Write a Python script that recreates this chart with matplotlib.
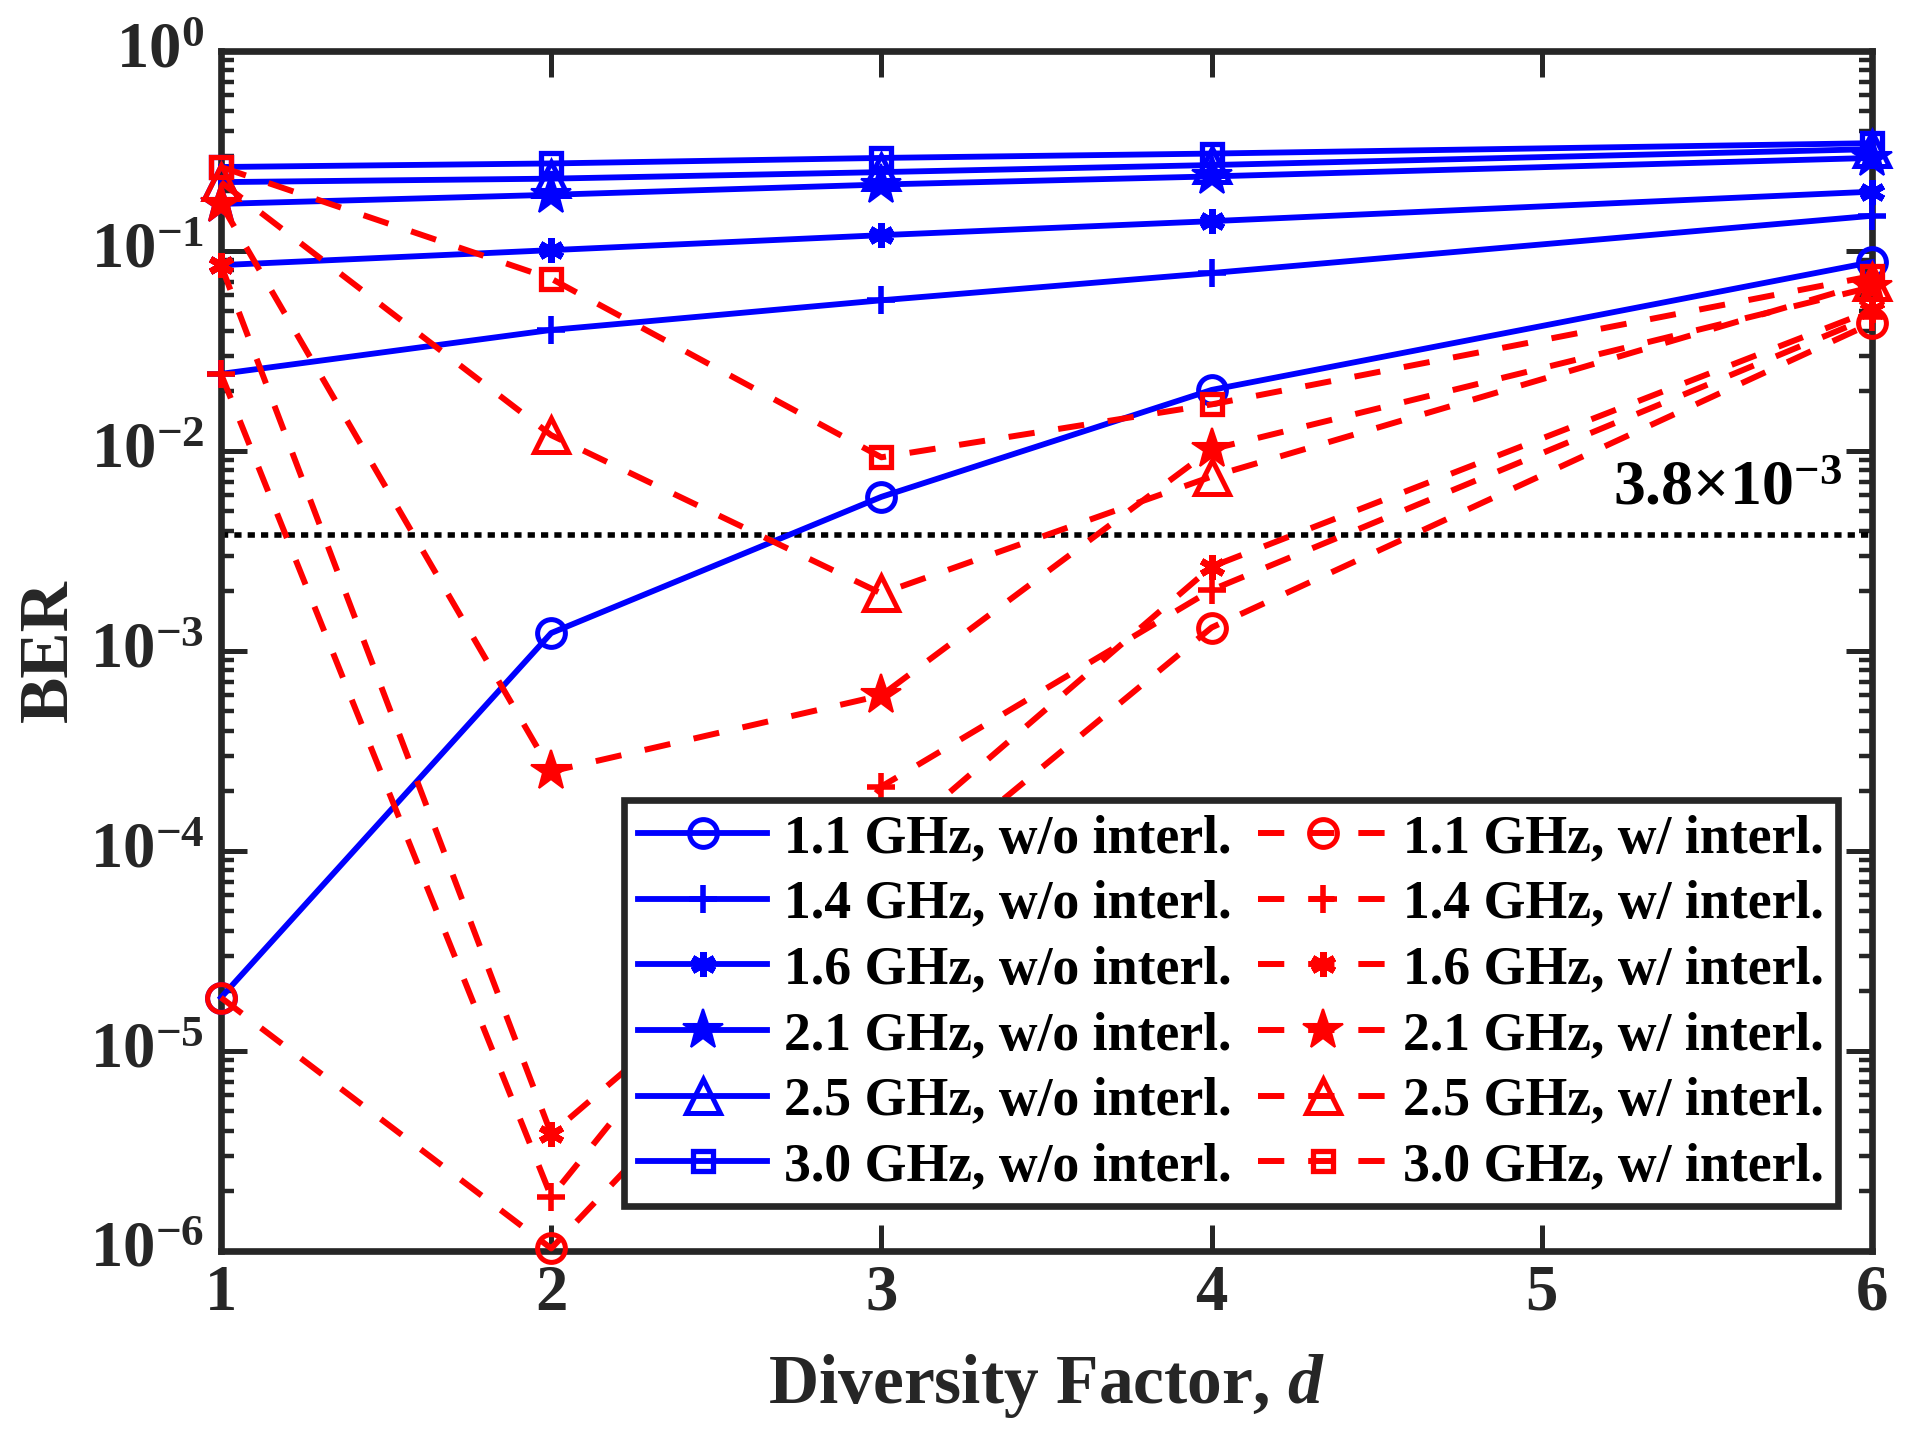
import numpy as np
import matplotlib
matplotlib.use("Agg")
import matplotlib.pyplot as plt
from matplotlib.ticker import LogLocator, NullFormatter, FixedLocator, FixedFormatter


# diversity factor d (there is no point at d = 5)
d = [1, 2, 3, 4, 6]

# carrier / bandwidth labels
freqs = ["1.1", "1.4", "1.6", "2.1", "2.5", "3.0"]

# BER without interleaving
ber_no_1p1 = [1.85e-5, 1.23e-3, 5.9e-3, 2.02e-2, 8.8e-2]
ber_no_1p4 = [2.43e-2, 4.03e-2, 5.67e-2, 7.76e-2, 1.50e-1]
ber_no_1p6 = [8.5e-2, 1.01e-1, 1.20e-1, 1.41e-1, 1.98e-1]
ber_no_2p1 = [1.72e-1, 1.91e-1, 2.15e-1, 2.36e-1, 2.92e-1]
ber_no_2p5 = [2.21e-1, 2.30e-1, 2.48e-1, 2.69e-1, 3.23e-1]
ber_no_3p0 = [2.63e-1, 2.74e-1, 2.92e-1, 3.07e-1, 3.46e-1]

# BER with interleaving
ber_il_1p1 = [1.85e-5, 1.03e-6, 5.7e-5, 1.31e-3, 4.36e-2]
ber_il_1p4 = [2.43e-2, 1.87e-6, 2.1e-4, 2.02e-3, 4.7e-2]
ber_il_1p6 = [8.5e-2, 3.85e-6, 1.0e-4, 2.64e-3, 5.05e-2]
ber_il_2p1 = [1.72e-1, 2.5e-4, 6.0e-4, 1.02e-2, 6.6e-2]
ber_il_2p5 = [2.21e-1, 1.20e-2, 1.94e-3, 7.45e-3, 7.0e-2]
ber_il_3p0 = [2.63e-1, 7.27e-2, 9.3e-3, 1.71e-2, 7.5e-2]

ber_no = [ber_no_1p1, ber_no_1p4, ber_no_1p6, ber_no_2p1, ber_no_2p5, ber_no_3p0]
ber_il = [ber_il_1p1, ber_il_1p4, ber_il_1p6, ber_il_2p1, ber_il_2p5, ber_il_3p0]

# FEC threshold
ber_threshold = 3.8e-3

x_ticks = [1, 2, 3, 4, 5, 6]
x_tick_labels = ["1", "2", "3", "4", "5", "6"]
y_ticks = [1e-6, 1e-5, 1e-4, 1e-3, 1e-2, 1e-1, 1e0]
y_tick_labels = [
    r"$\mathbf{10^{-6}}$",
    r"$\mathbf{10^{-5}}$",
    r"$\mathbf{10^{-4}}$",
    r"$\mathbf{10^{-3}}$",
    r"$\mathbf{10^{-2}}$",
    r"$\mathbf{10^{-1}}$",
    r"$\mathbf{10^{0}}$",
]


# Times-like bold look everywhere
plt.rcParams["font.family"] = ["Liberation Serif", "DejaVu Serif"]
plt.rcParams["font.weight"] = "bold"
plt.rcParams["axes.labelweight"] = "bold"
plt.rcParams["mathtext.fontset"] = "custom"
plt.rcParams["mathtext.rm"] = "Liberation Serif:bold"
plt.rcParams["mathtext.bf"] = "Liberation Serif:bold"
plt.rcParams["mathtext.it"] = "Liberation Serif:italic:bold"
plt.rcParams["mathtext.default"] = "bf"

AX_COLOR = "#262626"

# marker style per frequency: (marker, size, edge width, filled)
marker_styles = [
    ("o", 20, 3.6, False),
    ("+", 20, 4.0, True),
    ((6, 2, 0), 18, 4.8, True),
    ("*", 30, 1.5, True),
    ("^", 24, 3.6, False),
    ("s", 15, 3.8, False),
]

fig = plt.figure(figsize=(19.15, 14.45), dpi=100)
ax = fig.add_axes([221 / 1915, 1 - 1251 / 1445, 1651 / 1915, 1200 / 1445])

# solid blue: without interleaving
for f, ber, (mk, ms, mew, filled) in zip(freqs, ber_no, marker_styles):
    ax.plot(
        d,
        ber,
        "-",
        color="blue",
        lw=4.2,
        marker=mk,
        markersize=ms,
        markeredgewidth=mew,
        markerfacecolor="blue" if filled else "none",
        markeredgecolor="blue",
        clip_on=False,
        zorder=3,
        label="%s GHz, w/o interl." % f,
    )

# dashed red: with interleaving
for f, ber, (mk, ms, mew, filled) in zip(freqs, ber_il, marker_styles):
    ax.plot(
        d,
        ber,
        color="red",
        lw=4.3,
        dashes=(4.4, 4.0),
        marker=mk,
        markersize=ms,
        markeredgewidth=mew,
        markerfacecolor="red" if filled else "none",
        markeredgecolor="red",
        clip_on=False,
        zorder=4,
        label="%s GHz, w/ interl." % f,
    )

# threshold line and its label
ax.axhline(ber_threshold, color="black", lw=4.0, dashes=(1.3, 1.1), zorder=2)
ax.text(
    0.982,
    5.4e-3,
    r"$\mathbf{3.8{\times}10^{-3}}$",
    transform=ax.get_yaxis_transform(),
    ha="right",
    va="baseline",
    fontsize=46,
    color="black",
)

# axes
ax.set_yscale("log")
ax.set_xlim(1, 6)
ax.set_ylim(1e-6, 1e0)
ax.xaxis.set_major_locator(FixedLocator(x_ticks))
ax.xaxis.set_major_formatter(FixedFormatter(x_tick_labels))
ax.yaxis.set_major_locator(FixedLocator(y_ticks))
ax.yaxis.set_major_formatter(FixedFormatter(y_tick_labels))
ax.yaxis.set_minor_locator(LogLocator(base=10, subs=np.arange(2, 10), numticks=30))
ax.yaxis.set_minor_formatter(NullFormatter())

ax.tick_params(
    which="both", direction="in", top=True, right=True, colors=AX_COLOR, labelcolor=AX_COLOR
)
ax.tick_params(which="major", length=19, width=3.6, labelsize=46.5)
ax.tick_params(which="minor", length=9.5, width=3.2)
ax.tick_params(axis="x", which="major", pad=9)
ax.tick_params(axis="y", which="major", pad=12)
for lab in ax.get_yticklabels():
    lab.set_verticalalignment("center")

for spine in ax.spines.values():
    spine.set_linewidth(4.8)
    spine.set_color(AX_COLOR)

ax.set_xlabel(r"Diversity Factor, $\mathit{d}$", fontsize=50, fontweight="bold", color=AX_COLOR)
ax.set_ylabel("BER", fontsize=50, fontweight="bold", color=AX_COLOR)
ax.xaxis.set_label_coords(0.5, -0.084)
ax.yaxis.set_label_coords(-0.084, 0.5)

# legend: blue column, red column
leg = ax.legend(
    ncol=2,
    loc="lower right",
    bbox_to_anchor=(0.9794, 0.0375),
    borderaxespad=0,
    fontsize=38.7,
    handlelength=2.4,
    handletextpad=0.3,
    columnspacing=0.5,
    labelspacing=0.29,
    borderpad=0.26,
    frameon=True,
    fancybox=False,
    framealpha=1,
    edgecolor=AX_COLOR,
)
leg.get_frame().set_linewidth(4.8)
leg.set_zorder(10)

fig.savefig("out.png", dpi=100)
